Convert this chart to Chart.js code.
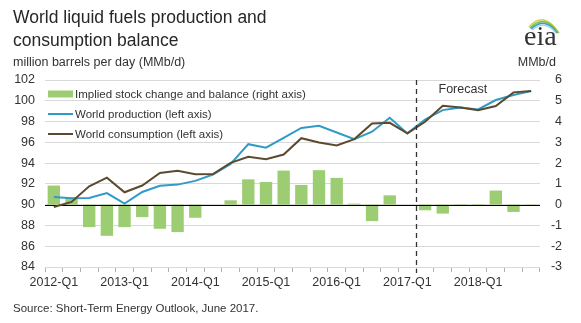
<!DOCTYPE html>
<html>
<head>
<meta charset="utf-8">
<title>World liquid fuels production and consumption balance</title>
<script src="https://cdn.jsdelivr.net/npm/chart.js@4.4.0/dist/chart.umd.min.js"></script>
<style>
  body { margin: 0; background: #fff; font-family: "Liberation Sans", Arial, sans-serif; color: #333; }
  #wrap { position: relative; width: 581px; height: 323px; overflow: hidden; }
  #chart { position: absolute; left: 0; top: 0; }
  .title { position: absolute; left: 13px; top: 6px; font-size: 17.5px; line-height: 23px; color: #262626; }
  .sub { position: absolute; left: 13px; top: 55px; font-size: 12.5px; line-height: 15px; }
  .unit { position: absolute; right: 25px; top: 55px; font-size: 12.5px; line-height: 15px; }
  .source { position: absolute; left: 13px; top: 301px; font-size: 11.5px; line-height: 15px; }
  #logo { position: absolute; left: 512px; top: 0; }
</style>
</head>
<body>
<div id="wrap">
  <canvas id="chart" width="581" height="323"></canvas>
  <div class="title">World liquid fuels production and<br>consumption balance</div>
  <div class="sub">million barrels per day (MMb/d)</div>
  <div class="unit">MMb/d</div>
  <div class="source">Source: Short-Term Energy Outlook, June 2017.</div>
  <svg id="logo" width="60" height="50" viewBox="0 0 60 50">
    <path d="M17 27 Q32 10 47 33" stroke="#c9d74a" stroke-width="1.6" fill="none"/>
    <path d="M18 28 Q33 13 46 33" stroke="#7dbb4e" stroke-width="1.6" fill="none"/>
    <path d="M19 29 Q33 16 45 33" stroke="#3a9fc1" stroke-width="1.6" fill="none"/>
    <path d="M20 30 Q33 19 44 33" stroke="#a6d3e8" stroke-width="1.4" fill="none"/>
    <text x="12" y="45" font-family="Liberation Serif, serif" font-size="28" fill="#333">eia</text>
  </svg>
</div>

<script>
// quarters on the x axis
const quarters = [
  '2012-Q1', '2012-Q2', '2012-Q3', '2012-Q4',
  '2013-Q1', '2013-Q2', '2013-Q3', '2013-Q4',
  '2014-Q1', '2014-Q2', '2014-Q3', '2014-Q4',
  '2015-Q1', '2015-Q2', '2015-Q3', '2015-Q4',
  '2016-Q1', '2016-Q2', '2016-Q3', '2016-Q4',
  '2017-Q1', '2017-Q2', '2017-Q3', '2017-Q4',
  '2018-Q1', '2018-Q2', '2018-Q3', '2018-Q4'
];

// World production (left axis, MMb/d)
const production = [
  90.74, 90.62, 90.64, 91.12, 90.10, 91.22, 91.82, 91.93,
  92.29, 92.90, 93.92, 95.82, 95.48, 96.43, 97.38, 97.59,
  96.95, 96.31, 97.02, 98.37, 96.86, 98.20, 99.10, 99.36,
  99.17, 100.07, 100.55, 100.94
];

// World consumption (left axis, MMb/d)
const consumption = [
  89.77, 90.26, 91.77, 92.60, 91.19, 91.84, 93.05, 93.26,
  92.92, 92.94, 94.02, 94.60, 94.38, 94.82, 96.40, 95.99,
  95.70, 96.31, 97.82, 97.88, 96.86, 97.98, 99.52, 99.36,
  99.10, 99.49, 100.81, 100.94
];

// Implied stock change and balance (right axis, MMb/d)
const stockChange = [
  0.92, 0.34, -1.08, -1.50, -1.08, -0.60, -1.16, -1.32,
  -0.63, 0.00, 0.21, 1.22, 1.09, 1.64, 0.95, 1.66,
  1.29, 0.05, -0.79, 0.45, 0.00, -0.27, -0.43, 0.03,
  0.03, 0.68, -0.35, -0.05
];

const leftMin = 84, leftMax = 102, leftStep = 2;
const rightMin = -3, rightMax = 6, rightStep = 1;
const forecastStart = '2017-Q2';

const FONT = '"Liberation Sans", Arial, sans-serif';
const GREEN = '#9dcd72';
const BLUE = '#2f9bc6';
const BROWN = '#5c4a2f';

// zero line, forecast divider and the legend inside the plot
const overlay = {
  id: 'overlay',
  afterDatasetDraw(chart, args) {
    if (args.index !== 2) return; // right after the bars, under the lines
    const { ctx, chartArea: a, scales: { y1 } } = chart;
    const y0 = Math.round(y1.getPixelForValue(0)) + 0.5;
    ctx.save();
    ctx.strokeStyle = '#000';
    ctx.lineWidth = 1;
    ctx.beginPath();
    ctx.moveTo(a.left, y0);
    ctx.lineTo(a.right, y0);
    ctx.stroke();
    ctx.restore();
  },
  afterDatasetsDraw(chart) {
    const { ctx, chartArea: a, scales: { x } } = chart;
    ctx.save();

    // Forecast divider
    const i = quarters.indexOf(forecastStart);
    const fx = Math.round((x.getPixelForValue(i - 1) + x.getPixelForValue(i)) / 2) + 0.5;
    ctx.setLineDash([5, 4]);
    ctx.strokeStyle = '#333';
    ctx.lineWidth = 1.3;
    ctx.beginPath();
    ctx.moveTo(fx, a.top);
    ctx.lineTo(fx, a.bottom + 6);
    ctx.stroke();
    ctx.setLineDash([]);

    ctx.fillStyle = '#333';
    ctx.font = '12.5px ' + FONT;
    ctx.textBaseline = 'middle';
    ctx.textAlign = 'left';
    ctx.fillText('Forecast', fx + 22, a.top + 10);

    // Legend
    const lx = a.left + 3;
    ctx.font = '11.5px ' + FONT;
    const items = chart.data.datasets.slice().reverse();
    items.forEach((ds, k) => {
      const cy = a.top + 14 + k * 20;
      if (ds.type === 'bar') {
        ctx.fillStyle = ds.backgroundColor;
        ctx.fillRect(lx, cy - 3.5, 25, 7);
      } else {
        ctx.strokeStyle = ds.borderColor;
        ctx.lineWidth = 2;
        ctx.beginPath();
        ctx.moveTo(lx, cy);
        ctx.lineTo(lx + 25, cy);
        ctx.stroke();
      }
      ctx.fillStyle = '#333';
      ctx.fillText(ds.label, lx + 27, cy + 0.5);
    });
    ctx.restore();
  }
};

new Chart(document.getElementById('chart'), {
  data: {
    labels: quarters,
    datasets: [
      {
        type: 'line',
        label: 'World consumption (left axis)',
        data: consumption,
        yAxisID: 'y',
        borderColor: BROWN,
        borderWidth: 2,
        pointRadius: 0,
        tension: 0,
        order: 1
      },
      {
        type: 'line',
        label: 'World production (left axis)',
        data: production,
        yAxisID: 'y',
        borderColor: BLUE,
        borderWidth: 2,
        pointRadius: 0,
        tension: 0,
        order: 2
      },
      {
        type: 'bar',
        label: 'Implied stock change and balance (right axis)',
        data: stockChange,
        yAxisID: 'y1',
        backgroundColor: GREEN,
        barPercentage: 0.7,
        categoryPercentage: 1,
        order: 3
      }
    ]
  },
  options: {
    responsive: false,
    animation: false,
    layout: { padding: { top: 80, right: 19, left: 0, bottom: 0 } },
    plugins: {
      legend: { display: false },
      tooltip: { enabled: false }
    },
    scales: {
      x: {
        offset: true,
        border: { display: false },
        grid: {
          offset: true,
          drawOnChartArea: false,
          drawTicks: true,
          tickLength: 5,
          color: '#b0b0b0'
        },
        ticks: {
          autoSkip: false,
          maxRotation: 0,
          padding: 3,
          color: '#333',
          font: { family: FONT, size: 12.5 },
          callback: (v, i) => (i % 4 === 0 ? quarters[i] : '')
        },
        afterFit: s => { s.height = 56; }
      },
      y: {
        position: 'left',
        min: leftMin,
        max: leftMax,
        border: { display: false },
        grid: { color: '#d9d9d9', drawTicks: false },
        ticks: {
          stepSize: leftStep,
          padding: 10,
          color: '#333',
          font: { family: FONT, size: 12.5 }
        },
        afterFit: s => { s.width = 45; }
      },
      y1: {
        position: 'right',
        min: rightMin,
        max: rightMax,
        border: { display: false },
        grid: { display: false },
        ticks: {
          stepSize: rightStep,
          crossAlign: 'far',
          color: '#333',
          font: { family: FONT, size: 12.5 }
        },
        afterFit: s => { s.width = 22; }
      }
    }
  },
  plugins: [overlay]
});
</script>
</body>
</html>
